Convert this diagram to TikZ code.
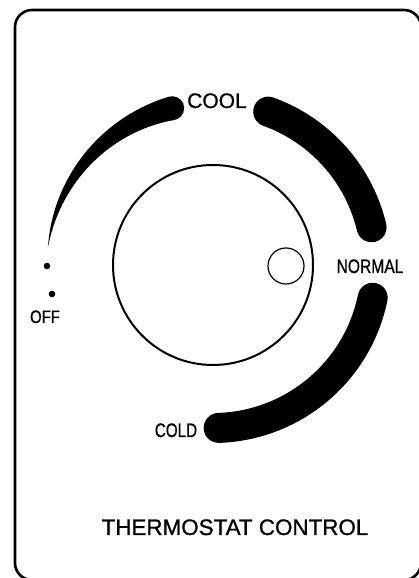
\documentclass[tikz,border=0pt]{standalone}
\usepackage{fontspec}
\usepackage{graphicx}
\setmainfont{Liberation Sans}[FakeBold=0.9]
\usetikzlibrary{calc}
\begin{document}
\begin{tikzpicture}[x=1pt,y=1pt,
  label text/.style={inner sep=0pt, anchor=base, text=black},
  band/.style={line width=30pt, line cap=round, black}]
\clip (0,0) rectangle (419,578);
\fill[white] (0,0) rectangle (419,578);
% frame
\draw[line width=2.6pt, rounded corners=17pt] (15,-2) rectangle (421,568);
\coordinate (C) at (213,313);
% knob
\draw[line width=2pt] (C) circle[radius=100pt];
\node[draw, circle, line width=1.2pt, minimum size=36pt, inner sep=0pt] (mark) at (286,312) {};
% right upper band
\draw[band] ($(C)+(70.2:163pt)$) arc[start angle=70.2, end angle=13.4, radius=163pt];
% lower band
\draw[band] ($(C)+(-11.6:163pt)$) arc[start angle=-11.6, end angle=-88, radius=163pt];
% tapered left band
\fill[black] plot[domain=0:1, samples=60, variable=\t]
   ({213+(162+4*\t+12*(1-\t))*cos(104.6+69.4*\t)}, {313+(162+4*\t+12*(1-\t))*sin(104.6+69.4*\t)})
   -- plot[domain=1:0, samples=60, variable=\t]
   ({213+(162+4*\t-12*(1-\t))*cos(104.6+69.4*\t)}, {313+(162+4*\t-12*(1-\t))*sin(104.6+69.4*\t)})
   -- cycle;
\fill[black] ($(C)+(104.6:162pt)$) circle[radius=12pt];
% dots
\fill[black] (47,312) circle[radius=3.3pt];
\fill[black] (52,284) circle[radius=3.3pt];
% labels
\node[label text, font=\fontsize{21}{24}\selectfont] (cool) at (217,470) {COOL};
\node[label text, font=\fontsize{19.5}{22}\selectfont] (normal) at (370,305) {\scalebox{0.8}[1]{NORMAL}};
\node[label text, font=\fontsize{18}{21}\selectfont] (off) at (45,255) {\scalebox{0.83}[1]{OFF}};
\node[label text, font=\fontsize{19.5}{22}\selectfont] (cold) at (176,141) {\scalebox{0.78}[1]{COLD}};
\node[label text, font=\fontsize{22.4}{26}\selectfont] (title) at (235,43) {THERMOSTAT CONTROL};
\end{tikzpicture}
\end{document}
